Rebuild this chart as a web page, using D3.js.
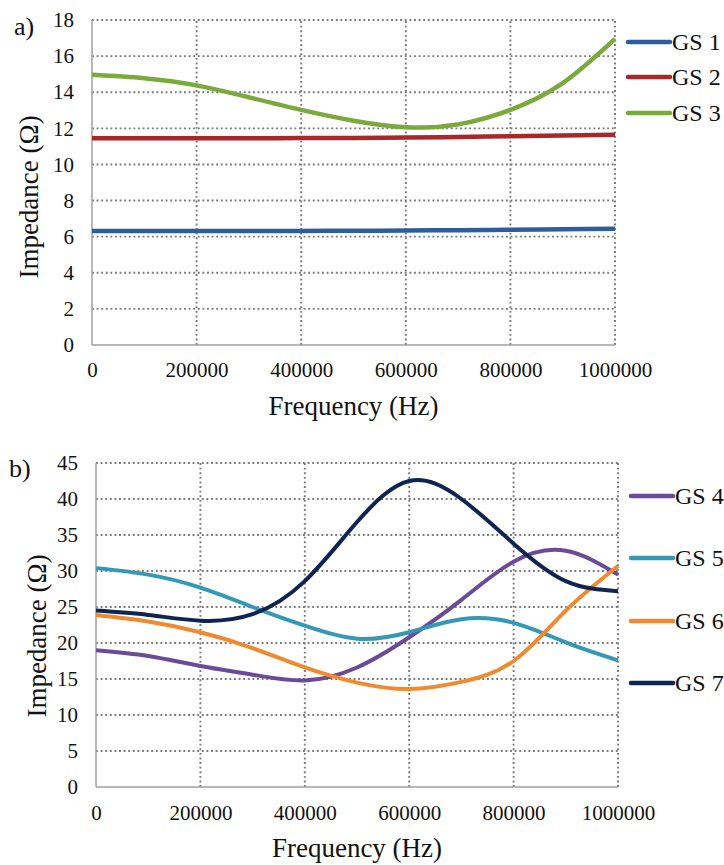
<!DOCTYPE html>
<html>
<head>
<meta charset="utf-8">
<script src="https://cdn.jsdelivr.net/npm/d3@7/dist/d3.min.js"></script>
<style>
  html, body { margin: 0; padding: 0; background: #fff; }
  svg { display: block; }
  text { font-family: "Liberation Serif", "Times New Roman", "DejaVu Serif", serif; fill: #111; }
</style>
</head>
<body>
<svg id="chart" width="724" height="865"></svg>
<script>
// ---- Data ----
const frequency = [0, 100000, 200000, 300000, 400000, 500000, 600000, 700000, 800000, 900000, 1000000];
const xTicks = [0, 200000, 400000, 600000, 800000, 1000000];

// Panel a)
const gs1 = [6.32, 6.32, 6.32, 6.32, 6.32, 6.33, 6.34, 6.36, 6.38, 6.41, 6.44];
const gs2 = [11.45, 11.45, 11.45, 11.45, 11.46, 11.47, 11.49, 11.52, 11.56, 11.60, 11.65];
const gs3 = [14.97, 14.78, 14.38, 13.72, 13.02, 12.42, 12.06, 12.22, 13.02, 14.50, 16.95];
const yTicksA = [0, 2, 4, 6, 8, 10, 12, 14, 16, 18];

// Panel b)
const gs4 = [19.0, 18.2, 16.8, 15.6, 14.8, 16.6, 20.8, 26.0, 31.3, 32.8, 29.5];
const gs5 = [30.4, 29.5, 27.7, 25.0, 22.4, 20.6, 21.5, 23.3, 22.8, 20.1, 17.6];
const gs6 = [23.9, 23.0, 21.5, 19.3, 16.6, 14.5, 13.6, 14.6, 17.5, 24.5, 30.7];
const gs7 = [24.5, 23.9, 23.1, 24.0, 28.6, 36.8, 42.5, 40.0, 33.8, 28.6, 27.2];
const yTicksB = [0, 5, 10, 15, 20, 25, 30, 35, 40, 45];

const seriesA = [
  { name: "GS 1", values: gs1, color: "#2C5E9E" },
  { name: "GS 2", values: gs2, color: "#A8282A" },
  { name: "GS 3", values: gs3, color: "#7BA93B" }
];
const seriesB = [
  { name: "GS 4", values: gs4, color: "#6A4B98" },
  { name: "GS 5", values: gs5, color: "#3399B6" },
  { name: "GS 6", values: gs6, color: "#F08A30" },
  { name: "GS 7", values: gs7, color: "#0E2550" }
];

const svg = d3.select("#chart");
const FONT = "Liberation Serif, Times New Roman, serif";

function panel(opt) {
  const g = svg.append("g");
  const x = d3.scaleLinear().domain([0, 1000000]).range([opt.left, opt.right]);
  const y = d3.scaleLinear().domain([0, opt.yMax]).range([opt.bottom, opt.top]);

  // gridlines (dotted)
  const gridStroke = "#7a7a7a", gridW = 1.9, gridDash = "1.9,2.7";
  opt.yTicks.filter(v => v > 0).forEach(v => {
    g.append("line").attr("x1", x(0)).attr("x2", x(1000000))
      .attr("y1", y(v)).attr("y2", y(v))
      .attr("stroke", gridStroke).attr("stroke-width", gridW).attr("stroke-dasharray", gridDash);
  });
  xTicks.filter(v => v > 0).forEach(v => {
    g.append("line").attr("x1", x(v)).attr("x2", x(v))
      .attr("y1", y(0)).attr("y2", y(opt.yMax))
      .attr("stroke", gridStroke).attr("stroke-width", gridW).attr("stroke-dasharray", gridDash);
  });

  // axes lines (solid)
  g.append("line").attr("x1", x(0)).attr("x2", x(0)).attr("y1", y(0)).attr("y2", y(opt.yMax))
    .attr("stroke", "#a0a0a0").attr("stroke-width", 1.5);
  g.append("line").attr("x1", x(0)).attr("x2", x(1000000)).attr("y1", y(0)).attr("y2", y(0))
    .attr("stroke", "#a0a0a0").attr("stroke-width", 1.5);

  // axis tick labels via d3 axes
  const yAxis = d3.axisLeft(y).tickValues(opt.yTicks).tickSize(0).tickPadding(opt.yPad);
  const ya = g.append("g").attr("transform", `translate(${x(0)},0)`).call(yAxis)
    .attr("font-family", FONT);
  ya.select(".domain").remove();
  ya.selectAll("text").attr("font-size", 21).attr("fill", "#111");

  const xAxis = d3.axisBottom(x).tickValues(xTicks).tickSize(0).tickPadding(opt.xPad).tickFormat(d3.format("d"));
  const xa = g.append("g").attr("transform", `translate(0,${y(0)})`).call(xAxis)
    .attr("font-family", FONT);
  xa.select(".domain").remove();
  xa.selectAll("text").attr("font-size", 21).attr("fill", "#111");

  // lines
  const line = d3.line().x((d, i) => x(frequency[i])).y(d => y(d)).curve(d3.curveNatural);
  opt.series.forEach(s => {
    g.append("path").datum(s.values).attr("d", line)
      .attr("fill", "none").attr("stroke", s.color).attr("stroke-width", opt.lw);
  });

  // legend
  opt.series.forEach((s, i) => {
    const ly = opt.legendY[i];
    g.append("line").attr("x1", opt.legendX).attr("x2", opt.legendX + 42)
      .attr("y1", ly).attr("y2", ly).attr("stroke", s.color).attr("stroke-width", 4.5)
      .attr("stroke-linecap", "round");
    g.append("text").attr("x", opt.legendX + 44).attr("y", ly + 8)
      .attr("font-size", 24).text(s.name);
  });

  // axis titles
  g.append("text").attr("x", (opt.left + opt.right) / 2).attr("y", opt.xTitleY)
    .attr("text-anchor", "middle").attr("font-size", 27).text("Frequency (Hz)");
  g.append("text")
    .attr("transform", `translate(${opt.yTitleX},${opt.yTitleCY}) rotate(-90)`)
    .attr("text-anchor", "middle").attr("font-size", 27).text("Impedance (Ω)");

  // panel label
  g.append("text").attr("x", opt.labelX).attr("y", opt.labelY).attr("font-size", 26).text(opt.label);
}

panel({
  left: 92, right: 615, top: 20, bottom: 345, yMax: 18, yTicks: yTicksA,
  series: seriesA, lw: 4.5, yPad: 18, xPad: 17,
  legendX: 628, legendY: [42, 77, 113],
  xTitleY: 415, yTitleX: 38, yTitleCY: 197, label: "a)", labelX: 14, labelY: 35
});

panel({
  left: 96, right: 618, top: 463, bottom: 787, yMax: 45, yTicks: yTicksB,
  series: seriesB, lw: 4, yPad: 18, xPad: 18,
  legendX: 631, legendY: [496, 558, 621, 683],
  xTitleY: 857, yTitleX: 46, yTitleCY: 636, label: "b)", labelX: 9, labelY: 477
});
</script>
</body>
</html>
